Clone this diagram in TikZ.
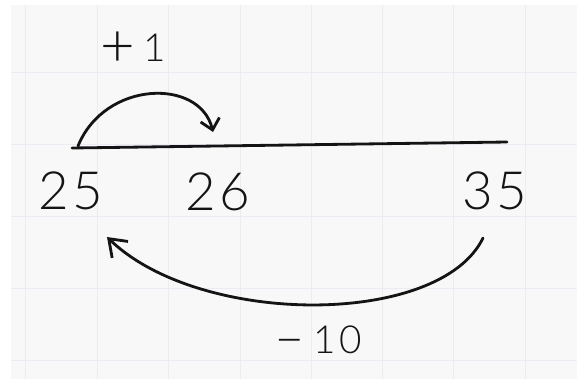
\documentclass[tikz,border=0pt]{standalone}
\usepackage{fontspec}
\usepackage{tikz}
\usetikzlibrary{arrows.meta,positioning,calc}
\setmainfont{Lato Light}
\definecolor{paperwhite}{RGB}{248, 248, 248}
\definecolor{gridblue}{RGB}{233, 237, 243}
\definecolor{inkblack}{RGB}{20, 20, 20}

\begin{document}
\begin{tikzpicture}[x=0.02cm,y=-0.02cm,
    numlabel/.style={inkblack,inner sep=0pt,font=\fontsize{30}{32}\selectfont\addfontfeature{LetterSpace=7}},
    jumplabel/.style={inkblack,inner sep=0pt,font=\fontsize{22}{24}\selectfont},
    jump/.style={inkblack,line width=1.6pt,line cap=round}]
    % Paper with a faint grid
    \useasboundingbox (0,0) rectangle (577,379);
    \fill[white] (0,0) rectangle (577,379);
    \fill[paperwhite] (11,5) rectangle (577,379);
    \foreach \gx in {25,97,168,240,311,382,453,525}
        \draw[gridblue,line width=0.4pt] (\gx,5) -- (\gx,379);
    \foreach \gy in {72,144,216,288,360}
        \draw[gridblue,line width=0.4pt] (11,\gy) -- (577,\gy);

    % Number line
    \coordinate (lineL) at (72,148);
    \coordinate (lineR) at (507,142);
    \draw[jump] (lineL) -- (lineR);

    % Numbers under the line
    \node[numlabel] (n25) at (71,191) {25};
    \node[numlabel] (n26) at (218,192) {26};
    \node[numlabel] (n35) at (495,191) {35};

    % Jump +1 over the line
    \coordinate (upStart) at (78,146);
    \coordinate (upEnd) at (213,132);
    \draw[jump,-{Straight Barb[length=6pt,width=11pt]}]
        (upStart) .. controls (105,80) and (200,78) .. (upEnd);
    \node[jumplabel] (plusone) at (133,49)
        {\raisebox{-2.5pt}{\fontsize{34}{34}\selectfont +}\hspace{5pt}1};

    % Jump -10 below the numbers
    \coordinate (downStart) at (483,238);
    \coordinate (downEnd) at (107,237);
    \draw[jump,-{Straight Barb[length=9pt,width=13pt]}]
        (downStart) .. controls (440,327) and (200,327) .. (downEnd);
    \node[jumplabel] (minusten) at (318,341)
        {\raisebox{-1pt}{\fontsize{30}{30}\selectfont --}\hspace{5pt}1\hspace{2pt}0};
\end{tikzpicture}
\end{document}
